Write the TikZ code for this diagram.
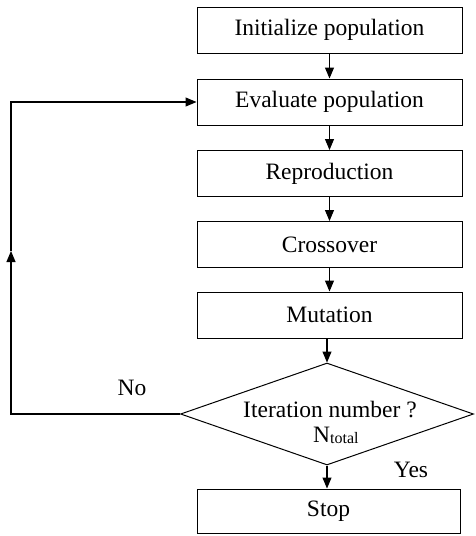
\documentclass[tikz,border=0pt]{standalone}
\usepackage{fontspec}
\setmainfont{Liberation Serif}
\usetikzlibrary{arrows.meta,shapes.geometric}
\begin{document}
\begin{tikzpicture}[x=1pt,y=-1pt,
  box/.style={draw, line width=1pt, minimum width=265pt, minimum height=46pt, inner sep=0pt, font=\fontsize{23.5}{26}\selectfont},
  dia/.style={draw, diamond, line width=1pt, minimum width=293pt, minimum height=102pt, inner sep=0pt},
  lbl/.style={inner sep=0pt, font=\fontsize{23.5}{26}\selectfont},
  arr/.style={-{Triangle[length=11pt,width=9pt]}, line width=1.1pt},
  ln/.style={line width=1.1pt},
  ]
\useasboundingbox (0,0) rectangle (475,536);
\node[box] (init) at (329.5,30) {Initialize population};
\node[box] (eval) at (329.5,102) {Evaluate population};
\node[box] (repr) at (329.5,173.5) {Reproduction};
\node[box] (cross) at (329.5,244.5) {Crossover};
\node[box] (mut) at (329.5,315) {Mutation};
\node[dia] (dec) at (327,414) {};
\node[lbl, anchor=base] (q) at (330,417) {Iteration number ?};
\node[lbl, anchor=base west] (nt) at (313,442) {N{\fontsize{16}{16}\selectfont\raisebox{-1pt}{total}}};
\node[box, minimum width=263pt, minimum height=44pt] (stop) at (328.5,511) {Stop};
\node[lbl, anchor=base] (no) at (132,395) {No};
\node[lbl, anchor=base] (yes) at (411,477) {Yes};
\coordinate (lb) at (11,414);
\coordinate (mid) at (11,251);
\coordinate (lt) at (11,102);
\draw[arr] (init) -- (eval);
\draw[arr] (eval) -- (repr);
\draw[arr] (repr) -- (cross);
\draw[arr] (cross) -- (mut);
\draw[arr] (mut.south -| dec.north) -- (dec.north);
\draw[arr] (dec.south) -- (dec.south |- stop.north);
\draw[arr] (dec.west) -- (lb) -- (mid);
\draw[arr] (mid) -- (lt) -- (eval.west);
\end{tikzpicture}
\end{document}
